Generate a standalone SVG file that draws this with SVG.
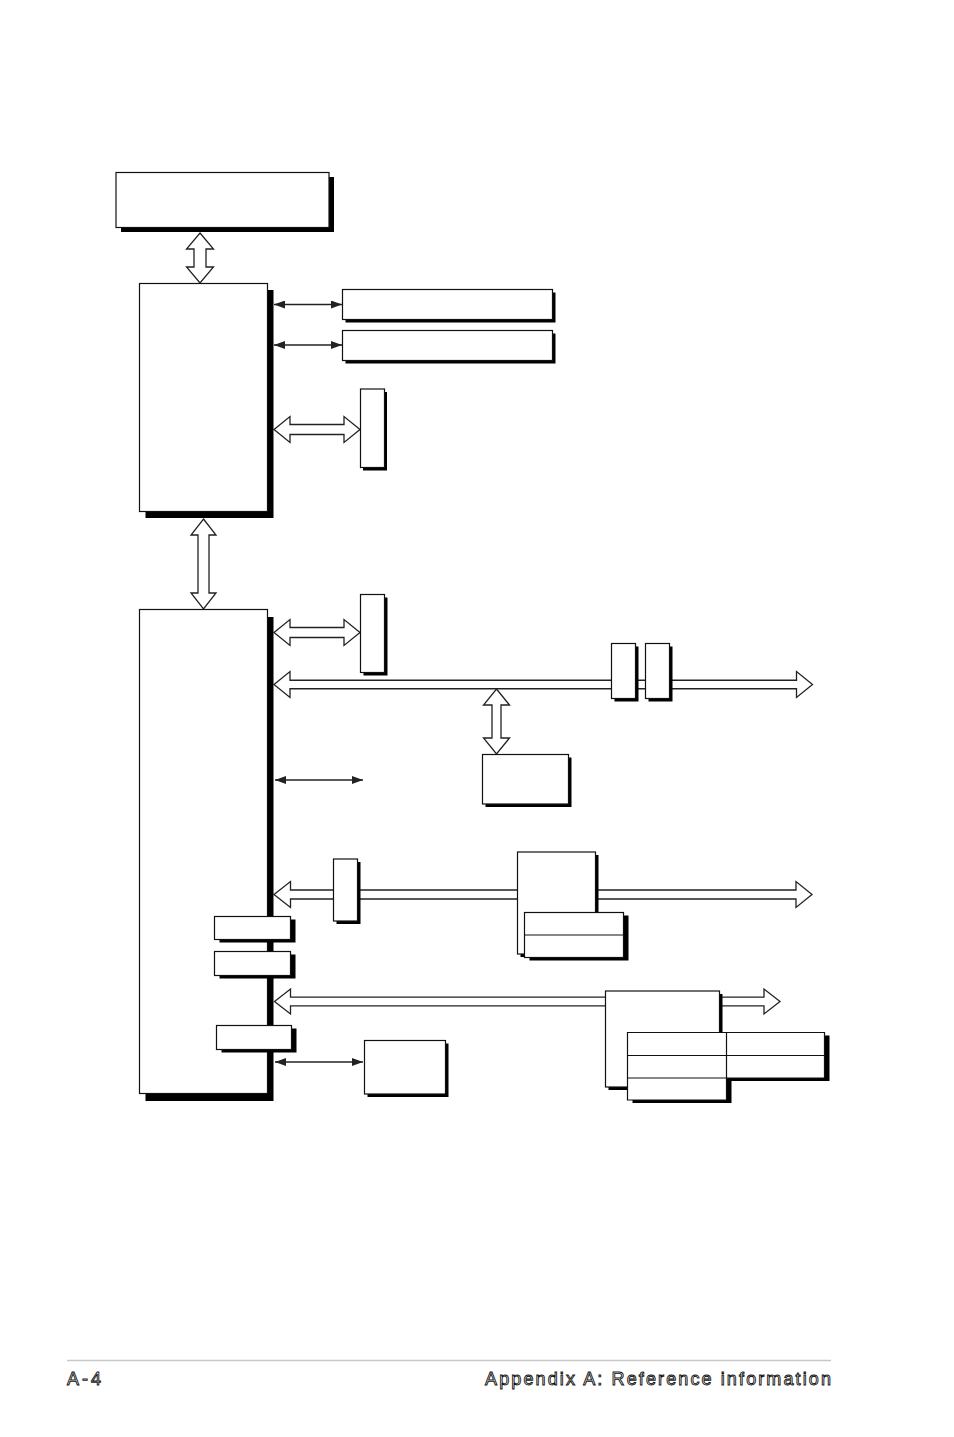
<svg xmlns="http://www.w3.org/2000/svg" width="954" height="1437" viewBox="0 0 954 1437">
<style>
.sh{fill:#000}
.bx{fill:#fff;stroke:#111;stroke-width:1.2}
.ha{fill:#fff;stroke:#222;stroke-width:1.3;stroke-linejoin:miter}
.ta{stroke:#222;stroke-width:1.6;fill:none;marker-start:url(#ah);marker-end:url(#ah)}
.ln{stroke:#111;stroke-width:1.2;fill:none}
.ft{font-family:"Liberation Sans",Arial,sans-serif;font-size:18px;fill:#fff;stroke:#111;stroke-width:0.9}
</style>
<defs>
<marker id="ah" viewBox="0 0 11 8" refX="11" refY="4" markerWidth="11" markerHeight="8" markerUnits="userSpaceOnUse" orient="auto-start-reverse">
<path d="M0,0 L11,4 L0,8 z" fill="#222"/>
</marker>
</defs>
<rect width="954" height="1437" fill="#fff"/>

<g id="connectors">
<polygon class="ha" points="200,233 213.5,249 206,249 206,267 213.5,267 200,283 186.5,267 194,267 194,249 186.5,249"/>
<line class="ta" x1="274" y1="304.5" x2="342" y2="304.5"/>
<line class="ta" x1="274" y1="345" x2="342" y2="345"/>
<polygon class="ha" points="274,429.5 290,416.5 290,424.5 344,424.5 344,416.5 360,429.5 344,442.5 344,434.5 290,434.5 290,442.5"/>
<polygon class="ha" points="203.5,519 216,535 209,535 209,593 216,593 203.5,609 191,593 198,593 198,535 191,535"/>
<polygon class="ha" points="274,632.5 290,619.5 290,627.5 344,627.5 344,619.5 360,632.5 344,645.5 344,637.5 290,637.5 290,645.5"/>
<polygon class="ha" points="274,684.5 290,671.5 290,680.25 796.5,680.25 796.5,671.5 812.5,684.5 796.5,697.5 796.5,688.75 290,688.75 290,697.5"/>
<polygon class="ha" points="496.5,689 509.5,705 501,705 501,738 509.5,738 496.5,754 483.5,738 492,738 492,705 483.5,705"/>
<line class="ta" x1="275" y1="780" x2="363" y2="780"/>
<polygon class="ha" points="274,894.5 290.5,881.5 290.5,890 796,890 796,881.5 812,894.5 796,907.5 796,899 290.5,899 290.5,907.5"/>
<polygon class="ha" points="274.5,1001.5 290.5,989 290.5,997.2 764,997.2 764,989 780,1001.5 764,1014 764,1005.8 290.5,1005.8 290.5,1014"/>
<line class="ta" x1="275" y1="1062" x2="363" y2="1062"/>
</g>

<g id="n-top"><rect class="sh" x="121" y="177" width="213" height="55"/><rect class="bx" x="116" y="172.5" width="213" height="55"/></g>
<g id="n-nb"><rect class="sh" x="145.5" y="290" width="128" height="228"/><rect class="bx" x="139.5" y="283.5" width="128" height="228"/></g>
<g id="n-b3"><rect class="sh" x="345.5" y="292.5" width="210" height="30"/><rect class="bx" x="342.5" y="289.5" width="210" height="30"/></g>
<g id="n-b4"><rect class="sh" x="345.5" y="333.5" width="210" height="30"/><rect class="bx" x="342.5" y="330.5" width="210" height="30"/></g>
<g id="n-b5"><rect class="sh" x="363" y="392" width="24" height="78.5"/><rect class="bx" x="360.5" y="389" width="24" height="78.5"/></g>
<g id="n-sb"><rect class="sh" x="145.5" y="617" width="128" height="484"/><rect class="bx" x="139.5" y="609.5" width="128" height="484"/></g>
<g id="n-b7"><rect class="sh" x="363.5" y="597.5" width="24" height="78"/><rect class="bx" x="360.5" y="594.5" width="24" height="78"/></g>
<g id="n-a"><rect class="sh" x="614.5" y="646.5" width="24" height="55"/><rect class="bx" x="611.5" y="643.5" width="24" height="55"/></g>
<g id="n-b"><rect class="sh" x="648.5" y="646.5" width="24" height="55"/><rect class="bx" x="645.5" y="643.5" width="24" height="55"/></g>
<g id="n-c"><rect class="sh" x="485.5" y="757.5" width="86" height="49.5"/><rect class="bx" x="482.5" y="754.5" width="86" height="49.5"/></g>
<g id="n-d"><rect class="sh" x="336.5" y="862" width="24" height="62"/><rect class="bx" x="333.5" y="859" width="24" height="62"/></g>
<g id="n-e"><rect class="sh" x="520.5" y="855" width="78" height="102"/><rect class="bx" x="517.5" y="852" width="78" height="102"/></g>
<g id="n-f"><rect class="sh" x="529.5" y="915.5" width="99" height="45"/><rect class="bx" x="524.5" y="912.5" width="99" height="45"/><line class="ln" x1="524.5" y1="935" x2="623.5" y2="935"/></g>
<g id="n-g"><rect class="sh" x="219.5" y="919.5" width="76" height="23"/><rect class="bx" x="214.5" y="916.5" width="76" height="23"/></g>
<g id="n-h"><rect class="sh" x="219.5" y="954.5" width="76" height="24"/><rect class="bx" x="214.5" y="951.5" width="76" height="24"/></g>
<g id="n-i"><rect class="sh" x="221.5" y="1028.5" width="75" height="24"/><rect class="bx" x="216.5" y="1025.5" width="75" height="24"/></g>
<g id="n-j"><rect class="sh" x="608.5" y="994" width="114" height="96"/><rect class="bx" x="605.5" y="991" width="114" height="96"/></g>
<g id="n-k">
<polygon class="sh" points="632.5,1035.5 829.5,1035.5 829.5,1081 731.5,1081 731.5,1103 632.5,1103"/>
<polygon class="bx" points="627.5,1032.5 824.5,1032.5 824.5,1078 726.5,1078 726.5,1100 627.5,1100"/>
<line class="ln" x1="627.5" y1="1055.5" x2="824.5" y2="1055.5"/>
<line class="ln" x1="627.5" y1="1078" x2="726.5" y2="1078"/>
<line class="ln" x1="726.5" y1="1032.5" x2="726.5" y2="1078"/>
</g>
<g id="n-l"><rect class="sh" x="367.5" y="1043.5" width="81" height="53.5"/><rect class="bx" x="364.5" y="1040.5" width="81" height="53.5"/></g>

<g id="footer">
<line x1="67" y1="1360.5" x2="831" y2="1360.5" stroke="#c8c8c8" stroke-width="1.5"/>
<text class="ft" x="67" y="1385" textLength="34" lengthAdjust="spacing">A-4</text>
<text class="ft" x="485" y="1385" textLength="346" lengthAdjust="spacing">Appendix A: Reference information</text>
</g>
</svg>
